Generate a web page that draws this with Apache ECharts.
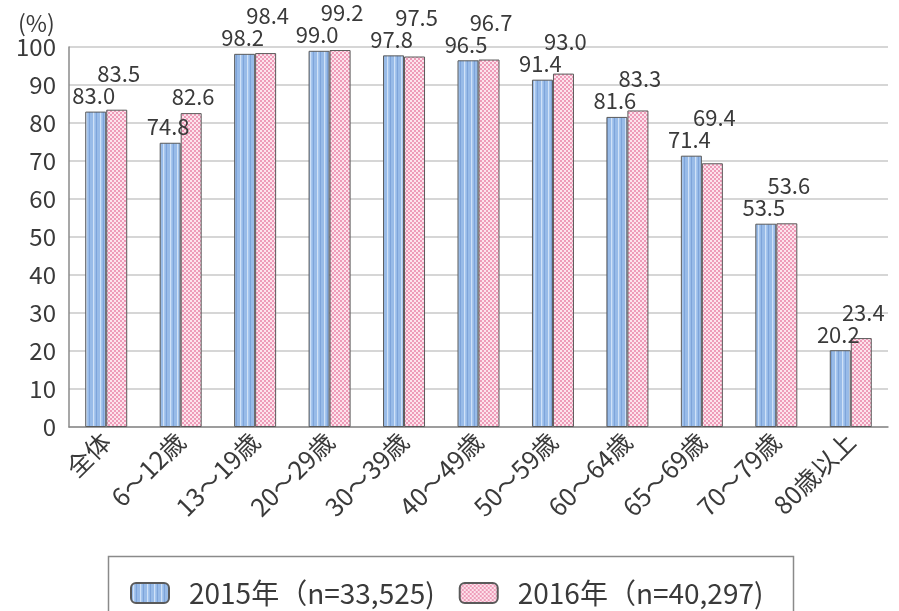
<!DOCTYPE html>
<html><head><meta charset="utf-8">
<script src="https://cdn.jsdelivr.net/npm/echarts@6/dist/echarts.min.js"></script>
<style>html,body{margin:0;padding:0;background:#fff}#c{width:899px;height:611px}</style>
</head><body><div id="c"></div>
<script>
const categories = ['全体','6～12歳','13～19歳','20～29歳','30～39歳','40～49歳','50～59歳','60～64歳','65～69歳','70～79歳','80歳以上'];
const values2015 = [83.0, 74.8, 98.2, 99.0, 97.8, 96.5, 91.4, 81.6, 71.4, 53.5, 20.2];
const values2016 = [83.5, 82.6, 98.4, 99.2, 97.5, 96.7, 93.0, 83.3, 69.4, 53.6, 23.4];
const seriesNames = ['2015年（n=33,525)', '2016年（n=40,297)'];
const yTicks = {min: 0, max: 100, interval: 10};

function stripePattern() {
  const c = document.createElement('canvas'); c.width = 7; c.height = 4;
  const g = c.getContext('2d');
  const cols = ['#98bbe8','#98bbe8','#d0e1f7','#a6c6ee','#98bbe8','#7ea4da','#98bbe8'];
  cols.forEach((col, i) => { g.fillStyle = col; g.fillRect(i, 0, 1, 4); });
  return c;
}
function dotPattern() {
  const c = document.createElement('canvas'); c.width = 4; c.height = 4;
  const g = c.getContext('2d');
  g.fillStyle = '#fde3ec'; g.fillRect(0, 0, 4, 4);
  g.fillStyle = '#ee9cb9'; g.fillRect(0, 0, 2, 2); g.fillRect(2, 2, 2, 2);
  return c;
}

const gridTop = 47, gridBottomPx = 427;
const pxPerUnit = (gridBottomPx - gridTop) / (yTicks.max - yTicks.min);
const labelH = 22;
const labelFont = {fontSize: 22, color: '#3a3a3a', fontFamily: '"Noto Sans CJK JP", "Noto Sans", sans-serif'};

// 2016 label is stacked above the 2015 label when the two would collide
const data2016 = values2016.map((v, i) => {
  const v15 = values2015[i];
  const sep = (v - v15) * pxPerUnit;
  let dy = 0;
  if (sep < labelH) dy = -(labelH - sep);
  return {value: v, label: {offset: [2, dy]}};
});

const chart = echarts.init(document.getElementById('c'), null, {renderer: 'canvas'});
chart.setOption({
  animation: false,
  backgroundColor: '#fff',
  textStyle: {fontFamily: '"Noto Sans CJK JP", "Noto Sans", sans-serif'},
  title: {text: '(%)', left: 13, top: 7, textStyle: {fontSize: 23, fontWeight: 'normal', color: '#3a3a3a'}},
  grid: {left: 69, right: 11, top: gridTop, bottom: 611 - gridBottomPx},
  legend: {
    left: 125, top: 574, itemWidth: 38, itemHeight: 20, itemGap: 24,
    textStyle: {fontSize: 28, color: '#3a3a3a', width: 262, padding: [0, 0, 0, 15]},
    data: seriesNames
  },
  graphic: [{type: 'rect', shape: {x: 108.5, y: 556.5, width: 685, height: 80},
    style: {fill: 'none', stroke: '#8a8a8a', lineWidth: 1.5}, silent: true}],
  xAxis: {
    type: 'category', data: categories,
    axisLine: {lineStyle: {color: '#8a8a8a', width: 1.5}},
    axisTick: {inside: true, length: 9, lineStyle: {color: '#8a8a8a'}},
    axisLabel: {rotate: 45, margin: 10, fontSize: 25, color: '#3a3a3a', interval: 0, padding: [0, 0, 0, 0]}
  },
  yAxis: {
    type: 'value', min: yTicks.min, max: yTicks.max, interval: yTicks.interval,
    axisLine: {show: true, lineStyle: {color: '#8a8a8a', width: 1.5}},
    axisTick: {show: false},
    axisLabel: {margin: 13, fontSize: 24, color: '#3a3a3a'},
    splitLine: {lineStyle: {color: '#c8c8c8', width: 1.5}}
  },
  series: [
    {name: seriesNames[0], type: 'bar', data: values2015, barWidth: 21, barGap: '0%',
     itemStyle: {color: {image: stripePattern(), repeat: 'repeat'}, borderColor: '#5a5a5a', borderWidth: 1},
     label: Object.assign({show: true, position: 'top', distance: 5, offset: [-2, 0], formatter: p => p.value.toFixed(1)}, labelFont)},
    {name: seriesNames[1], type: 'bar', data: data2016, barWidth: 21, barGap: '0%',
     itemStyle: {color: {image: dotPattern(), repeat: 'repeat'}, borderColor: '#5a5a5a', borderWidth: 1},
     label: Object.assign({show: true, position: 'top', distance: 5, formatter: p => p.value.toFixed(1)}, labelFont)}
  ]
});
</script></body></html>
